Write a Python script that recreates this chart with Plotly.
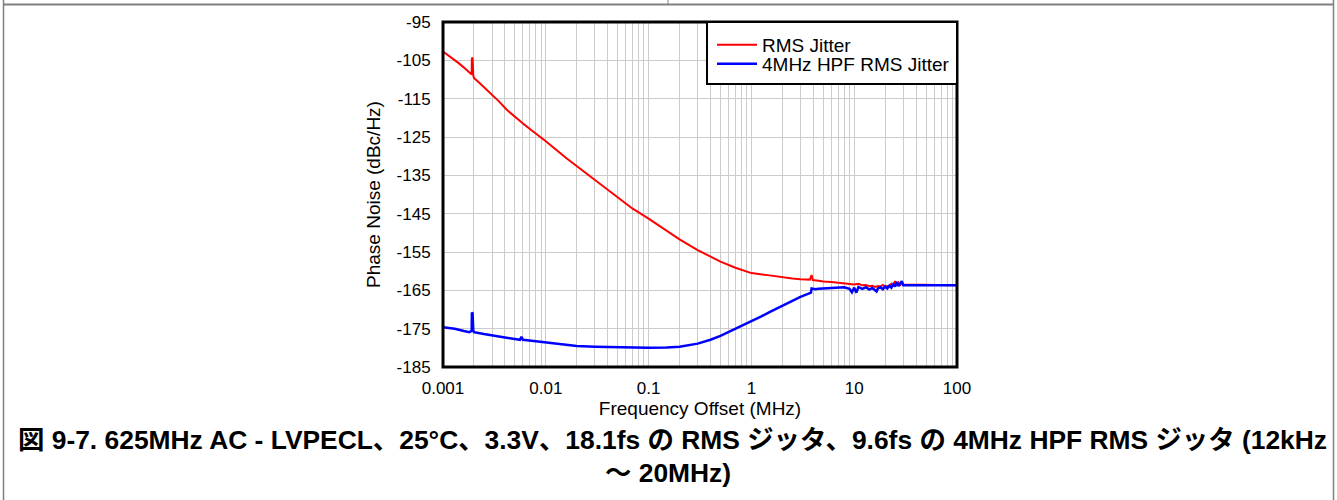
import plotly.graph_objects as go

# Phase noise, total (RMS jitter) – frequency offset in MHz, level in dBc/Hz
rms_freq = [0.001, 0.0012, 0.0014, 0.0016, 0.0018, 0.0019, 0.00191, 0.00194, 0.00197, 0.002,
            0.0022, 0.0025, 0.003, 0.0035, 0.00417, 0.005, 0.006, 0.007, 0.008, 0.01,
            0.016, 0.02, 0.03, 0.05, 0.07, 0.1, 0.15, 0.2, 0.3, 0.4,
            0.5, 0.7, 1.0, 1.5, 2.0, 2.5, 3.0, 3.7, 3.85, 3.9,
            3.95, 4.5, 5.0, 6.0, 7.0, 8.0, 9.0, 10.0, 11.0, 12.0,
            13.0, 14.0, 15.0, 16.0, 17.0, 18.0, 19.0, 20.0, 22.0, 23.0,
            24.0, 25.0, 26.0, 27.0, 28.0, 29.0, 30.0, 100.0]
rms_dbc = [-102.7, -104.2, -105.6, -106.9, -108.1, -108.7, -104.3, -104.5, -108.9, -109.6,
           -110.6, -112.0, -114.0, -115.7, -117.9, -119.8, -121.5, -122.9, -124.1, -126.1,
           -130.6, -132.6, -136.3, -140.9, -143.7, -146.3, -149.5, -151.7, -154.5, -156.3,
           -157.5, -159.1, -160.5, -161.1, -161.6, -161.9, -162.1, -162.2, -161.0, -162.0,
           -162.3, -162.5, -162.7, -162.8, -163.0, -163.2, -163.3, -163.5, -163.3, -163.7,
           -163.6, -163.9, -163.8, -164.1, -163.9, -164.0, -163.6, -164.0, -163.8, -163.3,
           -163.9, -162.6, -163.7, -163.0, -163.8, -162.7, -163.5, -163.7]

# Phase noise after the 4 MHz high-pass filter
hpf_freq = [0.001, 0.0013, 0.0016, 0.0018, 0.0019, 0.00191, 0.00194, 0.00197, 0.002, 0.0025,
            0.003, 0.004, 0.005, 0.0056, 0.0058, 0.006, 0.008, 0.01, 0.015, 0.02,
            0.03, 0.05, 0.07, 0.1, 0.15, 0.2, 0.3, 0.4, 0.5, 0.7,
            1.0, 1.25, 1.5, 2.0, 2.5, 3.0, 3.5, 3.8, 3.85, 4.2, 4.5,
            5.0, 6.0, 7.0, 8.0, 9.0, 9.5, 10.0, 10.5, 11.0, 12.0,
            13.0, 14.0, 15.0, 16.0, 16.5, 17.0, 18.0, 19.0, 20.0, 21.0,
            22.0, 23.0, 24.0, 25.0, 26.0, 27.0, 28.0, 29.0, 30.0, 100.0]
hpf_dbc = [-174.6, -175.0, -175.6, -175.9, -175.6, -170.8, -171.0, -175.5, -175.9, -176.4,
           -176.8, -177.3, -177.7, -177.9, -177.1, -177.9, -178.3, -178.6, -179.2, -179.5,
           -179.7, -179.9, -180.0, -180.0, -179.9, -179.7, -178.9, -177.9, -176.9, -175.1,
           -173.1, -171.8, -170.7, -169.0, -167.7, -166.7, -166.0, -165.6, -164.5, -164.7, -164.6,
           -164.5, -164.4, -164.3, -164.2, -164.6, -165.5, -164.3, -165.6, -164.1, -164.6,
           -164.2, -164.8, -164.4, -164.9, -165.3, -164.5, -164.2, -164.7, -164.0, -164.5,
           -163.8, -164.3, -163.4, -164.0, -162.8, -163.9, -163.1, -162.6, -163.7, -163.7]

series_names = ["RMS Jitter", "4MHz HPF RMS Jitter"]

x_mantissas = [m for e in range(-3, 2) for m in range(1, 10)] + [1]
x_tick_vals = [m * 10.0 ** e for e in range(-3, 2) for m in range(1, 10)] + [100.0]
x_tick_text = [("%g" % v if m == 1 else "") for v, m in zip(x_tick_vals, x_mantissas)]
y_tick_vals = list(range(-185, -94, 10))
y_tick_text = ["%d" % v for v in y_tick_vals]

caption_line1 = "図 9-7. 625MHz AC - LVPECL、25°C、3.3V、18.1fs の RMS ジッタ、9.6fs の 4MHz HPF RMS ジッタ (12kHz"
caption_line2 = "～ 20MHz)"

W, H = 1337, 500
PL, PR, PT, PB = 443, 957, 22, 367   # plot area edges in pixels

def px(x):
    return (x - PL) / (PR - PL)

def py(y):
    return (PB - y) / (PB - PT)

FONT = "Arial, 'Liberation Sans', 'Noto Sans CJK JP', sans-serif"

fig = go.Figure()
fig.add_trace(go.Scatter(x=rms_freq, y=rms_dbc, mode="lines", name=series_names[0],
                         line=dict(color="#FF0000", width=2), legend="legend"))
fig.add_trace(go.Scatter(x=hpf_freq, y=hpf_dbc, mode="lines", name=series_names[1],
                         line=dict(color="#0000FF", width=2.5), legend="legend2"))

grid = "#CCCCCC"
fig.update_xaxes(type="log", range=[-3, 2], tickmode="array", tickvals=x_tick_vals,
                 ticktext=x_tick_text, showgrid=True, gridcolor=grid, gridwidth=1,
                 zeroline=False, showline=False, ticks="outside", ticklen=6,
                 tickcolor="rgba(0,0,0,0)", tickfont=dict(family=FONT, size=17, color="black"),
                 title=dict(text="Frequency Offset (MHz)", standoff=1,
                            font=dict(family=FONT, size=19, color="black")))
fig.update_yaxes(range=[-185, -95], tickmode="array", tickvals=y_tick_vals,
                 ticktext=y_tick_text,
                 showgrid=True, gridcolor=grid, gridwidth=1, zeroline=False, showline=False,
                 ticks="outside", ticklen=8, tickcolor="rgba(0,0,0,0)",
                 tickfont=dict(family=FONT, size=17, color="black"),
                 title=dict(text="Phase Noise (dBc/Hz)", standoff=10,
                            font=dict(family=FONT, size=19, color="black")))

shapes = [
    # plot frame
    dict(type="rect", xref="paper", yref="paper", x0=0, x1=1, y0=0, y1=1,
         line=dict(color="black", width=3)),
    # legend box (the two legend rows sit on top of it)
    dict(type="rect", xref="paper", yref="paper", x0=px(707), x1=1, y0=py(84), y1=1,
         fillcolor="white", line=dict(color="black", width=2), layer="above"),
    # page frame: top rule, side rules and the column divider
    dict(type="line", xref="paper", yref="paper", x0=px(3), x1=px(1334), y0=py(4.5), y1=py(4.5),
         line=dict(color="#808080", width=2)),
    dict(type="line", xref="paper", yref="paper", x0=px(3.5), x1=px(3.5), y0=py(0), y1=py(500),
         line=dict(color="#808080", width=1.5)),
    dict(type="line", xref="paper", yref="paper", x0=px(1333.5), x1=px(1333.5), y0=py(0), y1=py(500),
         line=dict(color="#808080", width=1.5)),
    dict(type="line", xref="paper", yref="paper", x0=px(668), x1=px(668), y0=py(0), y1=py(4.5),
         line=dict(color="#808080", width=1)),
]

annotations = [
    dict(text="<b>%s</b>" % caption_line1, xref="paper", yref="paper", x=px(672), y=py(440),
         xanchor="center", yanchor="middle", showarrow=False,
         font=dict(family=FONT, size=26.4, color="black")),
    dict(text="<b>%s</b>" % caption_line2, xref="paper", yref="paper", x=px(668), y=py(473),
         xanchor="center", yanchor="middle", showarrow=False,
         font=dict(family=FONT, size=26.4, color="black")),
]

legend_style = dict(xanchor="left", yanchor="middle", bgcolor="rgba(0,0,0,0)",
                    borderwidth=0, font=dict(family=FONT, size=19, color="black"),
                    itemwidth=40)

fig.update_layout(
    width=W, height=H,
    margin=dict(l=PL, r=W - PR, t=PT, b=H - PB, pad=0),
    paper_bgcolor="white", plot_bgcolor="white",
    font=dict(family=FONT, color="black"),
    shapes=shapes, annotations=annotations,
    legend=dict(x=px(712), y=py(45), **legend_style),
    legend2=dict(x=px(712), y=py(64), **legend_style),
    showlegend=True,
)

fig.write_html("out.html")
